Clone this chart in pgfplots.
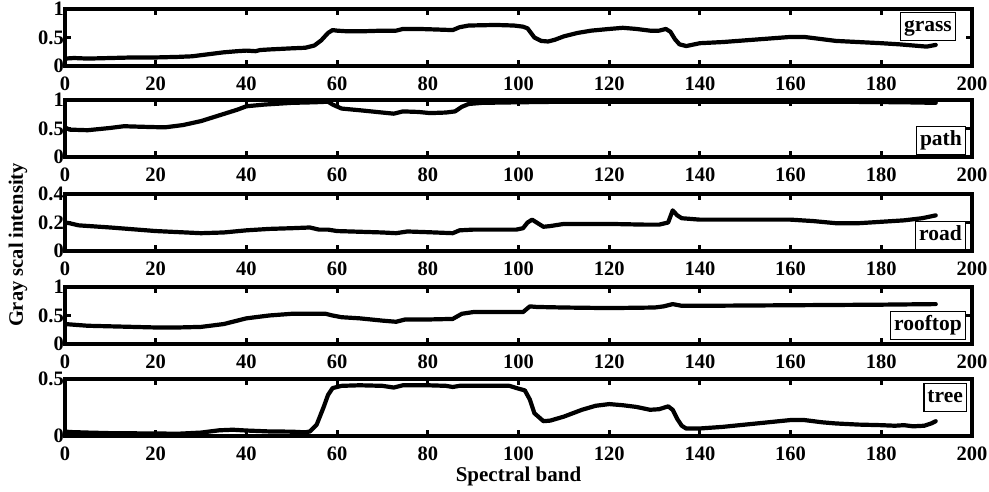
\documentclass[border=0pt]{standalone}
\usepackage{fontspec}
\setmainfont{Liberation Serif}
\usepackage{pgfplots}
\pgfplotsset{compat=1.18}
\pgfplotsset{panel/.style={
  width=907pt, height=57pt, scale only axis,
  xmin=0, xmax=200, xtick={0,20,...,200}, ymin=0,
  tick align=inside, tick pos=both,
  xticklabel pos=lower, yticklabel pos=left,
  axis line style={line width=3.5pt},
  major tick length=6pt,
  every tick/.style={black, line width=3pt},
  tick label style={font=\bfseries\fontsize{20.5}{20}\selectfont},
  /pgf/number format/assume math mode=true,
  yticklabel style={inner sep=1pt},
  xticklabel style={inner sep=0pt, yshift=-11pt},
  anchor=north west,
}}
\tikzset{curve/.style={black, line width=4.2pt, line join=round, line cap=round},
lab/.style={draw=black, line width=1.3pt, fill=white, font=\bfseries\fontsize{21.5}{20}\selectfont, inner xsep=3.5pt, inner ysep=4pt, text height=15pt, text depth=5pt}}
\begin{document}
\begin{tikzpicture}
\useasboundingbox (-65pt,9pt) rectangle (924pt,-483pt);
% grass
\begin{axis}[panel, at={(0pt,0pt)}, ymax=1, ytick={0,0.5,1}]
\addplot[curve] coordinates {
(0,0.13)(2,0.14)(5,0.13)(10,0.14)(15,0.15)(20,0.15)(25,0.16)(28,0.17)(32,0.21)(35,0.24)(38,0.26)(40,0.27)(42,0.26)(43,0.28)(45,0.29)(50,0.31)(53,0.32)(55,0.36)(56.5,0.45)(58,0.58)(59,0.63)(60,0.62)(62,0.61)(66,0.61)(70,0.62)(73,0.62)(74.5,0.65)(78,0.65)(82,0.64)(85.5,0.63)(87,0.68)(89,0.71)(95,0.72)(99,0.71)(101,0.69)(102,0.66)(103.5,0.5)(105,0.44)(106.5,0.43)(108,0.46)(110,0.52)(113,0.58)(116,0.62)(120,0.65)(123,0.67)(126,0.65)(129,0.62)(131,0.62)(132.5,0.65)(133.5,0.6)(134.5,0.47)(135.5,0.38)(137,0.35)(140,0.40)(145,0.42)(150,0.45)(155,0.48)(160,0.51)(163,0.51)(166,0.48)(170,0.44)(175,0.42)(180,0.40)(184,0.38)(187,0.36)(190,0.34)(192,0.37)};
\node[lab, anchor=north east, xshift=-16pt, yshift=-3pt] at (rel axis cs:1,1) {grass};
\end{axis}
% path
\begin{axis}[panel, at={(0pt,-91pt)}, ymax=1, ytick={0,0.5,1}]
\addplot[curve] coordinates {
(0,0.52)(1,0.48)(5,0.47)(10,0.51)(13,0.54)(17,0.53)(22,0.52)(26,0.56)(30,0.63)(34,0.73)(38,0.83)(40,0.89)(44,0.92)(50,0.95)(55,0.96)(58,0.97)(59,0.92)(61,0.85)(65,0.82)(70,0.78)(72.5,0.76)(74.5,0.8)(78,0.79)(80.5,0.77)(84,0.78)(86,0.80)(87.5,0.88)(89,0.93)(92,0.95)(100,0.96)(110,0.97)(130,0.97)(150,0.97)(170,0.97)(185,0.96)(192,0.95)};
\node[lab, anchor=south east, xshift=-6pt, yshift=2pt] at (rel axis cs:1,0) {path};
\end{axis}
% road
\begin{axis}[panel, at={(0pt,-185pt)}, ymax=0.4, ytick={0,0.2,0.4}]
\addplot[curve] coordinates {
(0,0.20)(1,0.195)(3,0.18)(10,0.165)(20,0.14)(30,0.125)(35,0.13)(40,0.145)(45,0.155)(50,0.16)(54,0.165)(56,0.15)(58,0.15)(60,0.14)(65,0.135)(70,0.13)(73,0.125)(75.5,0.137)(80,0.132)(85.5,0.125)(87,0.145)(90,0.15)(99.5,0.15)(101,0.16)(102,0.2)(103,0.22)(104,0.2)(105.5,0.17)(107,0.175)(110,0.19)(120,0.19)(128,0.185)(131,0.185)(133,0.2)(134,0.285)(135,0.25)(136,0.23)(140,0.22)(150,0.22)(160,0.22)(165,0.21)(170,0.195)(175,0.195)(180,0.205)(185,0.215)(189,0.23)(192,0.25)};
\node[lab, anchor=south east, xshift=-6pt, yshift=1pt] at (rel axis cs:1,0) {road};
\end{axis}
% rooftop
\begin{axis}[panel, at={(0pt,-278pt)}, ymax=1, ytick={0,0.5,1}]
\addplot[curve] coordinates {
(0,0.35)(5,0.32)(10,0.31)(20,0.29)(25,0.29)(30,0.3)(35,0.35)(40,0.45)(45,0.5)(50,0.53)(55,0.53)(57.5,0.53)(59,0.5)(61,0.47)(65,0.45)(70,0.41)(73,0.39)(75,0.43)(80,0.43)(85.5,0.44)(87.5,0.53)(90,0.56)(95,0.56)(101,0.56)(102.5,0.66)(104,0.65)(110,0.64)(120,0.63)(130,0.64)(132,0.66)(134,0.7)(136,0.67)(140,0.67)(160,0.68)(180,0.69)(192,0.70)};
\node[lab, anchor=south east, xshift=-6pt, yshift=4pt] at (rel axis cs:1,0) {rooftop};
\end{axis}
% tree
\begin{axis}[panel, at={(0pt,-370pt)}, ymax=0.5, ytick={0,0.5},
  xlabel={Spectral band}, xlabel style={font=\bfseries\fontsize{21}{20}\selectfont, inner sep=0pt, yshift=-6pt}]
\addplot[curve] coordinates {
(0,0.04)(1,0.035)(5,0.03)(10,0.025)(20,0.022)(25,0.02)(30,0.03)(34,0.05)(37,0.055)(40,0.048)(45,0.04)(50,0.038)(53,0.032)(54,0.04)(55.5,0.1)(57,0.25)(58,0.36)(59,0.42)(61,0.44)(65,0.445)(70,0.44)(72.5,0.425)(74.5,0.445)(80,0.445)(84,0.44)(85.5,0.43)(87,0.44)(90,0.44)(98,0.44)(99.6,0.42)(101.4,0.40)(102.5,0.32)(103.5,0.2)(105.5,0.13)(107,0.135)(110,0.17)(114,0.23)(117,0.265)(120,0.28)(123,0.27)(126,0.255)(129,0.23)(131,0.235)(133,0.26)(134,0.23)(135,0.15)(136,0.09)(137,0.065)(140,0.066)(145,0.08)(150,0.10)(155,0.12)(160,0.14)(163,0.14)(167,0.12)(170,0.11)(175,0.10)(180,0.095)(183,0.09)(185,0.095)(187,0.085)(189.5,0.09)(191,0.11)(192,0.13)};
\node[lab, anchor=north east, xshift=-5pt, yshift=-4pt] at (rel axis cs:1,1) {tree};
\end{axis}
\node[rotate=90, font=\bfseries\fontsize{20.5}{20}\selectfont] at (-47pt,-236pt) {Gray scal intensity};
\end{tikzpicture}
\end{document}
